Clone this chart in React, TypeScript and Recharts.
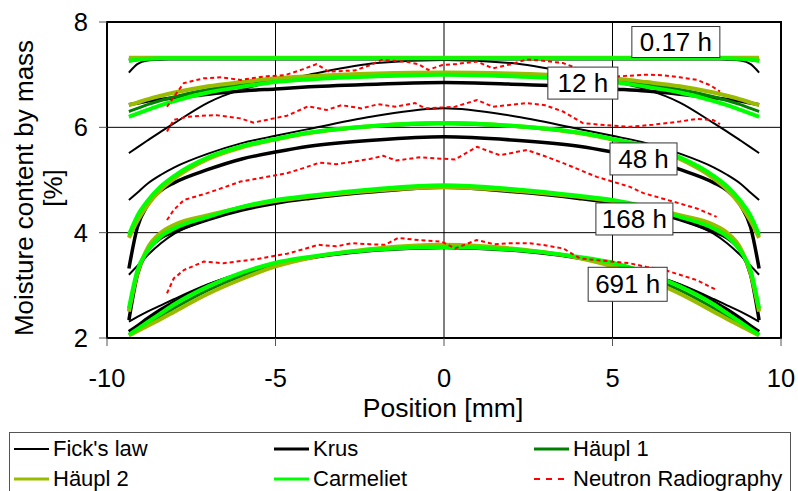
import React from "react";
import {
  CartesianGrid,
  Line,
  LineChart,
  ReferenceArea,
  ReferenceDot,
  XAxis,
  YAxis,
} from "recharts";

// positions [mm] where the simulated profiles were read
const positions = [-9.35, -9.1, -8.8, -8.4, -8, -7, -6, -5, -4, -2, 0, 2, 4, 5, 6, 7, 8, 8.4, 8.8, 9.1, 9.35];

// 0.17 h
const fick017 = [7.04, 7.2, 7.27, 7.29, 7.3, 7.3, 7.3, 7.3, 7.3, 7.3, 7.3, 7.3, 7.3, 7.3, 7.3, 7.3, 7.3, 7.29, 7.27, 7.2, 7.04];
const krus017 = [7.27, 7.29, 7.3, 7.3, 7.3, 7.3, 7.3, 7.3, 7.3, 7.3, 7.3, 7.3, 7.3, 7.3, 7.3, 7.3, 7.3, 7.3, 7.3, 7.29, 7.27];
const haupl1017 = [7.31, 7.31, 7.31, 7.31, 7.31, 7.31, 7.31, 7.31, 7.31, 7.31, 7.31, 7.31, 7.31, 7.31, 7.31, 7.31, 7.31, 7.31, 7.31, 7.31, 7.31];
const haupl2017 = [7.32, 7.32, 7.32, 7.32, 7.32, 7.32, 7.32, 7.32, 7.32, 7.32, 7.32, 7.32, 7.32, 7.32, 7.32, 7.32, 7.32, 7.32, 7.32, 7.32, 7.32];
const carm017 = [7.26, 7.29, 7.3, 7.31, 7.31, 7.31, 7.31, 7.31, 7.31, 7.31, 7.31, 7.31, 7.31, 7.31, 7.31, 7.31, 7.31, 7.31, 7.3, 7.29, 7.26];

// 12 h
const fick12 = [5.51, 5.62, 5.75, 5.92, 6.08, 6.47, 6.72, 6.87, 7.0, 7.22, 7.28, 7.22, 7.0, 6.87, 6.72, 6.47, 6.08, 5.92, 5.75, 5.62, 5.51];
const krus12 = [6.43, 6.46, 6.5, 6.53, 6.56, 6.63, 6.69, 6.73, 6.77, 6.82, 6.85, 6.82, 6.77, 6.73, 6.69, 6.63, 6.56, 6.53, 6.5, 6.46, 6.43];
const haupl112 = [6.3, 6.36, 6.43, 6.51, 6.58, 6.72, 6.82, 6.9, 6.94, 7.0, 7.02, 7.0, 6.94, 6.9, 6.82, 6.72, 6.58, 6.51, 6.43, 6.36, 6.3];
const haupl212 = [6.42, 6.47, 6.53, 6.6, 6.66, 6.78, 6.86, 6.93, 6.97, 7.02, 7.04, 7.02, 6.97, 6.93, 6.86, 6.78, 6.66, 6.6, 6.53, 6.47, 6.42];
const carm12 = [6.2, 6.26, 6.33, 6.42, 6.5, 6.66, 6.77, 6.86, 6.91, 6.97, 7.0, 6.97, 6.91, 6.86, 6.77, 6.66, 6.5, 6.42, 6.33, 6.26, 6.2];

// 48 h
const fick48 = [4.62, 4.76, 4.93, 5.1, 5.24, 5.5, 5.7, 5.84, 5.97, 6.22, 6.36, 6.22, 5.97, 5.84, 5.7, 5.5, 5.24, 5.1, 4.93, 4.76, 4.62];
const krus48 = [3.32, 4.1, 4.52, 4.8, 4.95, 5.2, 5.4, 5.53, 5.64, 5.76, 5.82, 5.76, 5.64, 5.53, 5.4, 5.2, 4.95, 4.8, 4.52, 4.1, 3.32];
const haupl148 = [3.93, 4.27, 4.56, 4.85, 5.06, 5.42, 5.63, 5.77, 5.89, 6.02, 6.07, 6.02, 5.89, 5.77, 5.63, 5.42, 5.06, 4.85, 4.56, 4.27, 3.93];
const haupl248 = [3.9, 4.22, 4.52, 4.82, 5.03, 5.4, 5.62, 5.77, 5.89, 6.03, 6.08, 6.03, 5.89, 5.77, 5.62, 5.4, 5.03, 4.82, 4.52, 4.22, 3.9];
const carm48 = [3.96, 4.32, 4.6, 4.88, 5.08, 5.43, 5.64, 5.78, 5.9, 6.03, 6.08, 6.03, 5.9, 5.78, 5.64, 5.43, 5.08, 4.88, 4.6, 4.32, 3.96];

// 168 h
const fick168 = [3.2, 3.37, 3.57, 3.8, 3.98, 4.25, 4.45, 4.59, 4.69, 4.83, 4.88, 4.83, 4.69, 4.59, 4.45, 4.25, 3.98, 3.8, 3.57, 3.37, 3.2];
const krus168 = [2.34, 3.2, 3.65, 3.9, 4.02, 4.25, 4.43, 4.56, 4.65, 4.78, 4.86, 4.78, 4.65, 4.56, 4.43, 4.25, 4.02, 3.9, 3.65, 3.2, 2.34];
const haupl1168 = [2.53, 3.25, 3.67, 3.95, 4.1, 4.31, 4.49, 4.61, 4.69, 4.82, 4.88, 4.82, 4.69, 4.61, 4.49, 4.31, 4.1, 3.95, 3.67, 3.25, 2.53];
const haupl2168 = [2.5, 3.22, 3.7, 4.0, 4.15, 4.33, 4.48, 4.6, 4.68, 4.8, 4.86, 4.8, 4.68, 4.6, 4.48, 4.33, 4.15, 4.0, 3.7, 3.22, 2.5];
const carm168 = [2.56, 3.28, 3.65, 3.93, 4.08, 4.3, 4.49, 4.62, 4.7, 4.83, 4.9, 4.83, 4.7, 4.62, 4.49, 4.3, 4.08, 3.93, 3.65, 3.28, 2.56];

// 691 h
const fick691 = [2.31, 2.4, 2.5, 2.62, 2.74, 3.02, 3.24, 3.4, 3.52, 3.67, 3.72, 3.67, 3.52, 3.4, 3.24, 3.02, 2.74, 2.62, 2.5, 2.4, 2.31];
const krus691 = [2.12, 2.23, 2.37, 2.54, 2.69, 3.0, 3.22, 3.4, 3.52, 3.67, 3.72, 3.67, 3.52, 3.4, 3.22, 3.0, 2.69, 2.54, 2.37, 2.23, 2.12];
const haupl1691 = [2.06, 2.15, 2.27, 2.42, 2.57, 2.91, 3.18, 3.39, 3.53, 3.69, 3.75, 3.69, 3.53, 3.39, 3.18, 2.91, 2.57, 2.42, 2.27, 2.15, 2.06];
const haupl2691 = [2.05, 2.13, 2.23, 2.36, 2.5, 2.84, 3.12, 3.36, 3.52, 3.7, 3.77, 3.7, 3.52, 3.36, 3.12, 2.84, 2.5, 2.36, 2.23, 2.13, 2.05];
const carm691 = [2.06, 2.17, 2.3, 2.47, 2.64, 2.98, 3.24, 3.43, 3.54, 3.68, 3.73, 3.68, 3.54, 3.43, 3.24, 2.98, 2.64, 2.47, 2.3, 2.17, 2.06];

// neutron radiography measurements
const nrAx = [-8.22, -7.87, -7.72, -7.13, -6.6, -6.04, -5.6, -5.25, -4.72, -4.2, -3.78, -3.43, -3.0, -2.64, -2.2, -1.85, -1.16, -0.76, -0.47, -0.07, 0.33, 0.98, 1.45, 2.0, 2.46, 3.0, 3.53, 4.04, 4.5, 5.01, 5.5, 6.0, 6.5, 7.0, 7.51, 7.9, 8.19];
const nrAy = [6.39, 6.71, 6.84, 6.93, 6.95, 6.9, 6.94, 6.97, 6.99, 7.1, 7.2, 7.06, 7.07, 7.08, 7.18, 7.28, 7.25, 7.2, 7.09, 7.18, 7.2, 7.25, 7.12, 7.2, 7.29, 7.26, 7.22, 7.1, 7.03, 6.96, 6.98, 7.0, 6.99, 6.95, 6.9, 6.8, 6.68];
const nrBx = [-8.22, -8.02, -7.63, -7.2, -6.74, -6.04, -5.65, -5.05, -4.66, -4.03, -3.48, -3.04, -2.44, -1.95, -1.45, -0.86, -0.56, 0.33, 0.98, 1.45, 2.46, 3.0, 3.53, 4.12, 4.8, 5.52, 6.2, 7.0, 7.5, 7.98, 8.19];
const nrBy = [5.92, 6.14, 6.2, 6.22, 6.23, 6.17, 6.09, 6.17, 6.22, 6.4, 6.33, 6.42, 6.36, 6.44, 6.39, 6.46, 6.36, 6.39, 6.52, 6.39, 6.46, 6.42, 6.3, 6.08, 6.04, 6.01, 6.05, 6.11, 6.16, 6.14, 6.06];
const nrCx = [-8.22, -8.02, -7.72, -7.03, -6.35, -6.04, -5.25, -4.66, -4.2, -3.69, -3.2, -2.68, -2.2, -1.8, -1.42, -0.73, 0.33, 0.98, 1.66, 2.46, 3.0, 3.54, 4.53, 5.52, 5.92, 6.8, 7.5, 8.09];
const nrCy = [4.24, 4.43, 4.62, 4.75, 4.9, 4.97, 5.06, 5.13, 5.22, 5.33, 5.3, 5.35, 5.4, 5.46, 5.37, 5.43, 5.39, 5.63, 5.47, 5.57, 5.45, 5.32, 5.06, 4.87, 4.75, 4.59, 4.46, 4.3];
const nrDx = [-8.22, -8.02, -7.72, -7.13, -6.54, -5.55, -4.66, -4.2, -3.73, -3.2, -2.74, -2.2, -1.75, -1.36, -0.76, -0.07, 0.33, 0.97, 1.5, 1.96, 2.55, 3.0, 3.54, 4.04, 4.5, 5.02, 5.5, 6.01, 6.5, 7.0, 7.5, 8.09];
const nrDy = [2.85, 3.13, 3.29, 3.45, 3.42, 3.5, 3.6, 3.68, 3.77, 3.74, 3.8, 3.78, 3.77, 3.9, 3.86, 3.83, 3.7, 3.86, 3.78, 3.8, 3.8, 3.76, 3.7, 3.51, 3.48, 3.45, 3.42, 3.35, 3.3, 3.2, 3.1, 2.91];

const xTicks = [-10, -5, 0, 5, 10];
const yTicks = [2, 4, 6, 8];

const models = [
  { key: "fick", name: "Fick's law", color: "#000000", width: 2, curves: [fick017, fick12, fick48, fick168, fick691] },
  { key: "krus", name: "Krus", color: "#000000", width: 3.5, curves: [krus017, krus12, krus48, krus168, krus691] },
  { key: "haupl1", name: "Häupl 1", color: "#008000", width: 3, curves: [haupl1017, haupl112, haupl148, haupl1168, haupl1691] },
  { key: "haupl2", name: "Häupl 2", color: "#99BB00", width: 4, curves: [haupl2017, haupl212, haupl248, haupl2168, haupl2691] },
  { key: "carmeliet", name: "Carmeliet", color: "#00FF00", width: 4, curves: [carm017, carm12, carm48, carm168, carm691] },
];

const measured = [
  [nrAx, nrAy],
  [nrBx, nrBy],
  [nrCx, nrCy],
  [nrDx, nrDy],
];

const neutron = { name: "Neutron Radiography", color: "#FF0000", width: 2, dash: "4 3" };

// time labels, placed in data coordinates
const tags = [
  { text: "0.17 h", x: 6.88, y: 7.62, w: 88, h: 31 },
  { text: "12 h", x: 4.12, y: 6.84, w: 70, h: 32 },
  { text: "48 h", x: 5.92, y: 5.4, w: 67, h: 32 },
  { text: "168 h", x: 5.65, y: 4.26, w: 77, h: 32 },
  { text: "691 h", x: 5.45, y: 3.02, w: 79, h: 34 },
];

const font = "'Liberation Sans', Arial, sans-serif";

const toPoints = (xs: number[], ys: number[]) => xs.map((x, i) => ({ x, v: ys[i] }));

const XTick = ({ x, y, payload }: any) => (
  <text x={x} y={y} dy={39} textAnchor="middle" fontSize={25.5} fill="#000" fontFamily={font}>
    {payload.value}
  </text>
);

const YTick = ({ x, y, payload }: any) => (
  <text x={x - 9} y={y} dy={9} textAnchor="end" fontSize={25.5} fill="#000" fontFamily={font}>
    {payload.value}
  </text>
);

const XTitle = () => (
  <text x={443} y={417} textAnchor="middle" fontSize={26.5} fill="#000" fontFamily={font}>
    Position [mm]
  </text>
);

const YTitle = () => (
  <g fontSize={26} fill="#000" fontFamily={font}>
    <text transform="translate(33,188) rotate(-90)" textAnchor="middle">
      Moisture content by mass
    </text>
    <text transform="translate(62,188) rotate(-90)" textAnchor="middle">
      [%]
    </text>
  </g>
);

const Tag = ({ cx, cy, text, w, h }: any) => (
  <g>
    <rect x={cx - w / 2} y={cy - h / 2} width={w} height={h} fill="#fff" stroke="#333" strokeWidth={1} />
    <text x={cx} y={cy} dy={9} textAnchor="middle" fontSize={26} fill="#000" fontFamily={font}>
      {text}
    </text>
  </g>
);

const legendRows = [
  [models[0], models[1], models[2]],
  [models[3], models[4], neutron],
];
const legendCols = [4, 264, 524];

function LegendBox() {
  return (
    <div
      style={{
        position: "absolute",
        left: 9,
        top: 432,
        width: 780,
        height: 70,
        border: "1px solid #555",
        background: "#fff",
        fontFamily: font,
        fontSize: 22,
      }}
    >
      {legendRows.map((row, r) =>
        row.map((item: any, c) => (
          <div
            key={item.name}
            style={{
              position: "absolute",
              left: legendCols[c],
              top: 3 + r * 30,
              height: 26,
              display: "flex",
              alignItems: "center",
              whiteSpace: "nowrap",
            }}
          >
            <svg width={35} height={10} style={{ marginRight: 4 }}>
              <line
                x1={0}
                y1={5}
                x2={35}
                y2={5}
                stroke={item.color}
                strokeWidth={item.width > 2 ? 3 : 2}
                strokeDasharray={item.dash ? "6 6" : undefined}
              />
            </svg>
            <span>{item.name}</span>
          </div>
        ))
      )}
    </div>
  );
}

export default function App() {
  return (
    <div style={{ position: "absolute", left: 0, top: 0, width: 798, height: 491, background: "#fff", overflow: "hidden" }}>
      <LineChart width={798} height={491} margin={{ top: 22, right: 17, bottom: 93, left: 0 }}>
        <CartesianGrid stroke="#000" strokeWidth={1} />
        <XAxis
          type="number"
          dataKey="x"
          domain={[-10, 10]}
          ticks={xTicks}
          height={60}
          tickSize={8}
          tick={<XTick />}
          tickLine={{ stroke: "#555" }}
          axisLine={{ stroke: "#000", strokeWidth: 2 }}
          label={<XTitle />}
        />
        <YAxis
          type="number"
          domain={[2, 8]}
          ticks={yTicks}
          width={107}
          tickSize={8}
          tick={<YTick />}
          tickLine={{ stroke: "#555" }}
          axisLine={{ stroke: "#000", strokeWidth: 2 }}
          label={<YTitle />}
        />
        <ReferenceArea x1={-10} x2={10} y1={2} y2={8} fill="none" stroke="#000" strokeWidth={2} />
        {models.map((m) =>
          m.curves.map((vals, i) => (
            <Line
              key={`${m.key}-${i}`}
              data={toPoints(positions, vals)}
              dataKey="v"
              type="monotone"
              stroke={m.color}
              strokeWidth={m.width}
              dot={false}
              activeDot={false}
              legendType="none"
              isAnimationActive={false}
            />
          ))
        )}
        {measured.map(([xs, ys], i) => (
          <Line
            key={`nr-${i}`}
            data={toPoints(xs, ys)}
            dataKey="v"
            type="linear"
            stroke={neutron.color}
            strokeWidth={neutron.width}
            strokeDasharray={neutron.dash}
            dot={false}
            activeDot={false}
            legendType="none"
            isAnimationActive={false}
          />
        ))}
        {tags.map((t) => (
          <ReferenceDot
            key={t.text}
            x={t.x}
            y={t.y}
            r={0}
            shape={(p: any) => <Tag cx={p.cx} cy={p.cy} text={t.text} w={t.w} h={t.h} />}
          />
        ))}
      </LineChart>
      <LegendBox />
    </div>
  );
}
